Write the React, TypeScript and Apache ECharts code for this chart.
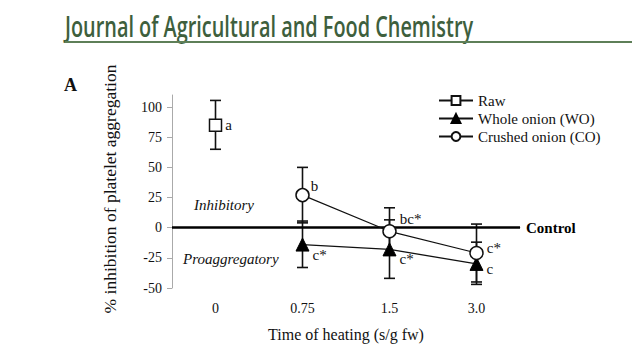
import React, { useEffect, useRef } from "react";
import * as echarts from "echarts";

const categories = ["0", "0.75", "1.5", "3.0"];
const rawValues = [85, null, null, null];
const rawLow = [65, null, null, null];
const rawHigh = [105.5, null, null, null];
const woValues = [null, -14, -18, -30];
const woLow = [null, -33, -42, -47];
const woHigh = [null, 5.5, 6.5, -12];
const coValues = [null, 27, -3, -21];
const coLow = [null, 4, -22.5, -45];
const coHigh = [null, 50, 16.5, 3];
const rawLabels = ["a", "", "", ""];
const woLabels = ["", "c*", "c*", "c"];
const coLabels = ["", "b", "bc*", "c*"];
const yTicks = [-50, -25, 0, 25, 50, 75, 100];

const SERIF = "Liberation Serif";

const rawOffsets = [[0, 0], [0, 0], [0, 0], [0, 0]];
const woOffsets = [[0, 0], [0, 10], [0, 10], [0, 5]];
const coOffsets = [[0, 0], [-2, -9], [0, -12], [0, -5]];

function labeled(values: (number | null)[], labels: string[], offsets: number[][]) {
  return values.map((v, i) =>
    v == null
      ? null
      : {
          value: v,
          label: {
            show: labels[i] !== "",
            formatter: labels[i],
            position: "right",
            distance: 3,
            offset: offsets[i],
            color: "#111",
            fontFamily: SERIF,
            fontSize: 15,
          },
        }
  );
}

function errData(low: (number | null)[], high: (number | null)[]) {
  const out: number[][] = [];
  low.forEach((l, i) => {
    if (l != null && high[i] != null) out.push([i, l, high[i] as number]);
  });
  return out;
}

function errSeries(low: (number | null)[], high: (number | null)[]) {
  return {
    type: "custom",
    z: 1,
    silent: true,
    renderItem: (_p: any, api: any) => {
      const x = api.value(0);
      const lo = api.coord([x, api.value(1)]);
      const hi = api.coord([x, api.value(2)]);
      const w = 5.5;
      const st = { stroke: "#111", lineWidth: 1.6 };
      return {
        type: "group",
        children: [
          { type: "line", shape: { x1: lo[0], y1: lo[1], x2: hi[0], y2: hi[1] }, style: st },
          { type: "line", shape: { x1: lo[0] - w, y1: lo[1], x2: lo[0] + w, y2: lo[1] }, style: st },
          { type: "line", shape: { x1: hi[0] - w, y1: hi[1], x2: hi[0] + w, y2: hi[1] }, style: st },
        ],
      };
    },
    data: errData(low, high),
  };
}

export default function App() {
  const ref = useRef<HTMLDivElement>(null);
  useEffect(() => {
    if (!ref.current) return;
    const chart = echarts.init(ref.current, null, { renderer: "svg" });
    chart.setOption({
      animation: false,
      backgroundColor: "#fff",
      textStyle: { fontFamily: SERIF },
      grid: { left: 172, right: 120, top: 95, bottom: 72 },
      legend: {
        orient: "vertical",
        left: 433,
        top: 88,
        itemWidth: 34,
        itemHeight: 11,
        itemGap: 3,
        textStyle: { fontFamily: SERIF, fontSize: 15, color: "#111" },
        data: ["Raw", "Whole onion (WO)", "Crushed onion (CO)"],
      },
      xAxis: {
        type: "category",
        data: categories,
        axisLine: { lineStyle: { color: "#aaa", width: 1 } },
        axisTick: { show: false },
        axisLabel: { color: "#111", fontSize: 14, fontFamily: SERIF, margin: 13 },
        name: "Time of heating (s/g fw)",
        nameLocation: "middle",
        nameGap: 38,
        nameTextStyle: { color: "#111", fontSize: 16, fontFamily: SERIF },
      },
      yAxis: {
        type: "value",
        min: -50,
        max: 110,
        interval: 25,
        splitLine: { show: false },
        axisLine: { show: true, lineStyle: { color: "#aaa", width: 1 } },
        axisTick: { show: true, length: 5, lineStyle: { color: "#aaa" }, customValues: yTicks },
        axisLabel: { color: "#111", fontSize: 14, fontFamily: SERIF, margin: 10, customValues: yTicks },
      },
      series: [
        errSeries(rawLow, rawHigh),
        errSeries(woLow, woHigh),
        errSeries(coLow, coHigh),
        {
          name: "Raw",
          type: "line",
          z: 3,
          data: labeled(rawValues, rawLabels, rawOffsets),
          symbol: "rect",
          symbolSize: 12,
          showAllSymbol: true,
          lineStyle: { color: "#111", width: 1.2 },
          itemStyle: { color: "#fff", borderColor: "#111", borderWidth: 1.5 },
          markLine: {
            silent: true,
            symbol: "none",
            lineStyle: { color: "#000", width: 2.5, type: "solid" },
            label: {
              show: true,
              position: "end",
              formatter: "Control",
              fontWeight: "bold",
              fontFamily: SERIF,
              fontSize: 15,
              color: "#000",
              distance: 6,
            },
            data: [{ yAxis: 0 }],
          },
        },
        {
          name: "Whole onion (WO)",
          type: "line",
          z: 4,
          data: labeled(woValues, woLabels, woOffsets),
          symbol: "triangle",
          symbolSize: 13,
          lineStyle: { color: "#111", width: 1.3 },
          itemStyle: { color: "#000", borderColor: "#000", borderWidth: 1 },
        },
        {
          name: "Crushed onion (CO)",
          type: "line",
          z: 5,
          data: labeled(coValues, coLabels, coOffsets),
          symbol: "circle",
          symbolSize: 13,
          lineStyle: { color: "#111", width: 1.2 },
          itemStyle: { color: "#fff", borderColor: "#111", borderWidth: 1.5 },
        },
      ],
      graphic: [
        {
          type: "text",
          x: 65,
          y: 26,
          scaleX: 0.71,
          style: {
            text: "Journal of Agricultural and Food Chemistry",
            fontFamily: "Open Sans",
            fontWeight: 600,
            fontSize: 28,
            fill: "#3e5f3d",
            verticalAlign: "middle",
          },
        },
        { type: "rect", x: 65, y: 41, shape: { width: 575, height: 2 }, style: { fill: "#5e7f58" } },
        {
          type: "text",
          x: 64,
          y: 85,
          style: { text: "A", fontFamily: SERIF, fontWeight: "bold", fontSize: 18, fill: "#111", verticalAlign: "middle" },
        },
        {
          type: "text",
          x: 110,
          y: 189,
          rotation: Math.PI / 2,
          style: {
            text: "% inhibition of platelet aggregation",
            fontFamily: SERIF,
            fontSize: 17.5,
            fill: "#111",
            align: "center",
            verticalAlign: "middle",
          },
        },
        {
          type: "text",
          x: 194,
          y: 205,
          style: { text: "Inhibitory", fontFamily: SERIF, fontStyle: "italic", fontSize: 15, fill: "#111", verticalAlign: "middle" },
        },
        {
          type: "text",
          x: 183,
          y: 259,
          style: { text: "Proaggregatory", fontFamily: SERIF, fontStyle: "italic", fontSize: 15, fill: "#111", verticalAlign: "middle" },
        },
      ],
    });
    return () => chart.dispose();
  }, []);
  return <div ref={ref} style={{ width: 640, height: 360, margin: -8 }} />;
}
